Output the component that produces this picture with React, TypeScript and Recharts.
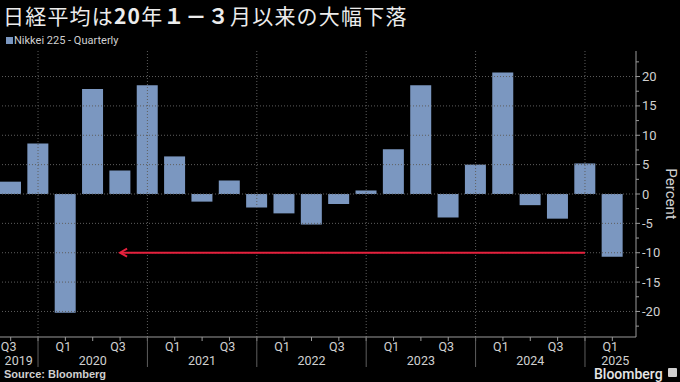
import React from 'react';
import { BarChart, Bar, XAxis, YAxis, ReferenceLine } from 'recharts';

const categories = [
  '2019Q3', '2019Q4',
  '2020Q1', '2020Q2', '2020Q3', '2020Q4',
  '2021Q1', '2021Q2', '2021Q3', '2021Q4',
  '2022Q1', '2022Q2', '2022Q3', '2022Q4',
  '2023Q1', '2023Q2', '2023Q3', '2023Q4',
  '2024Q1', '2024Q2', '2024Q3', '2024Q4',
  '2025Q1',
];
const quarterlyChange = [
  2.1, 8.6,
  -20.2, 17.9, 4.0, 18.5,
  6.4, -1.3, 2.3, -2.3,
  -3.3, -5.2, -1.7, 0.6,
  7.6, 18.5, -4.0, 5.0,
  20.7, -1.9, -4.2, 5.2,
  -10.7,
];
const majorTicks = [-20, -15, -10, -5, 0, 5, 10, 15, 20];
const minorTicks = [-22.5, -17.5, -12.5, -7.5, -2.5, 2.5, 7.5, 12.5, 17.5, 22.5];
const labeledQuarters = ['Q1', 'Q3'];
const arrowStart = '2024Q4';
const arrowEnd = '2020Q3';
const arrowLevel = -10;

const data = categories.map((c, i) => ({ quarter: c, value: quarterlyChange[i] }));
const yearSeparators = categories.filter((c) => c.endsWith('Q4'));
const allYTicks = [...minorTicks, ...majorTicks].sort((a, b) => a - b);

const TEXT = '#d0d0d0';
const AXIS = '#9a9a9a';
const GRID = '#5e5e5e';
const BAR = '#7b97c0';
const RED = '#e5213d';
const FONT = "Roboto, 'Liberation Sans', sans-serif";

function XTick(props: any) {
  const { x, y, payload, index } = props;
  const cat: string = payload.value;
  const year = cat.slice(0, 4);
  const q = cat.slice(4);
  const first = index === 0;
  const last = index === categories.length - 1;
  let yearX: number | null = null;
  if (q === 'Q2') yearX = x;
  if (first) yearX = x + 8;
  if (last) yearX = x + 3;
  return (
    <g>
      <line x1={x} x2={x} y1={y} y2={y + 4} stroke={AXIS} strokeWidth={1} />
      {q === 'Q4' && <line x1={x} x2={x} y1={y} y2={y + 30} stroke={GRID} strokeWidth={1} />}
      {labeledQuarters.includes(q) && (
        <text x={x - 2} y={y + 13.5} textAnchor="middle" fill={TEXT} fontSize={12.5} fontFamily={FONT}>
          {q}
        </text>
      )}
      {yearX !== null && (
        <text x={yearX} y={y + 27.5} textAnchor="middle" fill={TEXT} fontSize={12.5} fontFamily={FONT}>
          {year}
        </text>
      )}
    </g>
  );
}

function YTick(props: any) {
  const { x, y, payload } = props;
  const v: number = payload.value;
  const major = majorTicks.includes(v);
  return (
    <g>
      <line x1={x} x2={x + (major ? 4 : 3)} y1={y} y2={y} stroke={AXIS} strokeWidth={1} />
      {major && (
        <text x={x + 6} y={y} dy={4.5} textAnchor="start" fill={TEXT} fontSize={13} fontFamily={FONT}>
          {String(v)}
        </text>
      )}
    </g>
  );
}

function Arrow(props: any) {
  const { x1, y1, x2, y2 } = props;
  const left = Math.min(x1, x2);
  const right = Math.max(x1, x2);
  const yy = (y1 + y2) / 2;
  return (
    <g>
      <line x1={left + 1} x2={right} y1={yy} y2={yy} stroke={RED} strokeWidth={2} />
      <polyline
        points={`${left + 7},${yy - 4} ${left},${yy} ${left + 7},${yy + 4}`}
        fill="none"
        stroke={RED}
        strokeWidth={2}
      />
    </g>
  );
}

export default function App() {
  return (
    <div
      style={{
        position: 'fixed',
        left: 0,
        top: 0,
        width: 680,
        height: 382,
        background: '#000',
        overflow: 'hidden',
      }}
    >
      <div
        style={{
          position: 'absolute',
          left: 3,
          top: 1,
          fontFamily: "'Noto Sans CJK JP', sans-serif",
          fontSize: 21,
          letterSpacing: '1.2px',
          color: '#ececec',
          whiteSpace: 'nowrap',
          lineHeight: '28px',
        }}
      >
        日経平均は<b>20</b>年<b>１－３</b>月以来の大幅下落
      </div>
      <div style={{ position: 'absolute', left: 6, top: 37, width: 7, height: 7, background: BAR }} />
      <div
        style={{
          position: 'absolute',
          left: 14,
          top: 33,
          fontFamily: FONT,
          fontSize: 11,
          color: TEXT,
          whiteSpace: 'nowrap',
          lineHeight: '15px',
        }}
      >
        Nikkei 225 - Quarterly
      </div>
      <div
        style={{
          position: 'absolute',
          left: 671,
          top: 194,
          transform: 'translate(-50%, -50%) rotate(90deg)',
          fontFamily: FONT,
          fontSize: 15,
          color: TEXT,
          whiteSpace: 'nowrap',
        }}
      >
        Percent
      </div>
      <div
        style={{
          position: 'absolute',
          left: 4,
          top: 367,
          fontFamily: "'Liberation Sans', sans-serif",
          fontWeight: 'bold',
          fontSize: 11,
          color: TEXT,
          whiteSpace: 'nowrap',
          lineHeight: '14px',
        }}
      >
        Source: Bloomberg
      </div>
      <div
        style={{
          position: 'absolute',
          left: 594,
          top: 368,
          fontFamily: FONT,
          fontWeight: 500,
          fontSize: 14,
          color: '#e6e6e6',
          whiteSpace: 'nowrap',
          lineHeight: '13px',
        }}
      >
        Bloomberg
      </div>
      <div
        style={{
          position: 'absolute',
          left: 668,
          top: 368,
          width: 9,
          height: 9,
          background: '#cfcfcf',
          borderRadius: 1,
        }}
      />
      <div style={{ position: 'absolute', left: -3, top: 0 }}>
        <BarChart
          width={683}
          height={382}
          data={data}
          margin={{ top: 51, right: 0, bottom: 0, left: 0 }}
        >
          <XAxis
            dataKey="quarter"
            height={45}
            interval={0}
            padding={{ left: 0, right: 10 }}
            axisLine={{ stroke: AXIS }}
            tickLine={false}
            tickSize={0}
            tickMargin={0}
            tick={<XTick />}
          />
          <YAxis
            orientation="right"
            width={44}
            domain={[-24.35, 24.35]}
            ticks={allYTicks}
            interval={0}
            allowDataOverflow
            axisLine={{ stroke: AXIS }}
            tickLine={false}
            tickSize={0}
            tickMargin={0}
            tick={<YTick />}
          />
          {majorTicks.map((v) => (
            <ReferenceLine key={'h' + v} y={v} stroke={GRID} strokeDasharray="1 2" />
          ))}
          {yearSeparators.map((c) => (
            <ReferenceLine key={'v' + c} x={c} stroke={GRID} strokeDasharray="1 2" />
          ))}
          <Bar dataKey="value" fill={BAR} barSize={21} isAnimationActive={false} />
          <ReferenceLine
            segment={[
              { x: arrowEnd, y: arrowLevel },
              { x: arrowStart, y: arrowLevel },
            ]}
            shape={<Arrow />}
          />
        </BarChart>
      </div>
    </div>
  );
}
